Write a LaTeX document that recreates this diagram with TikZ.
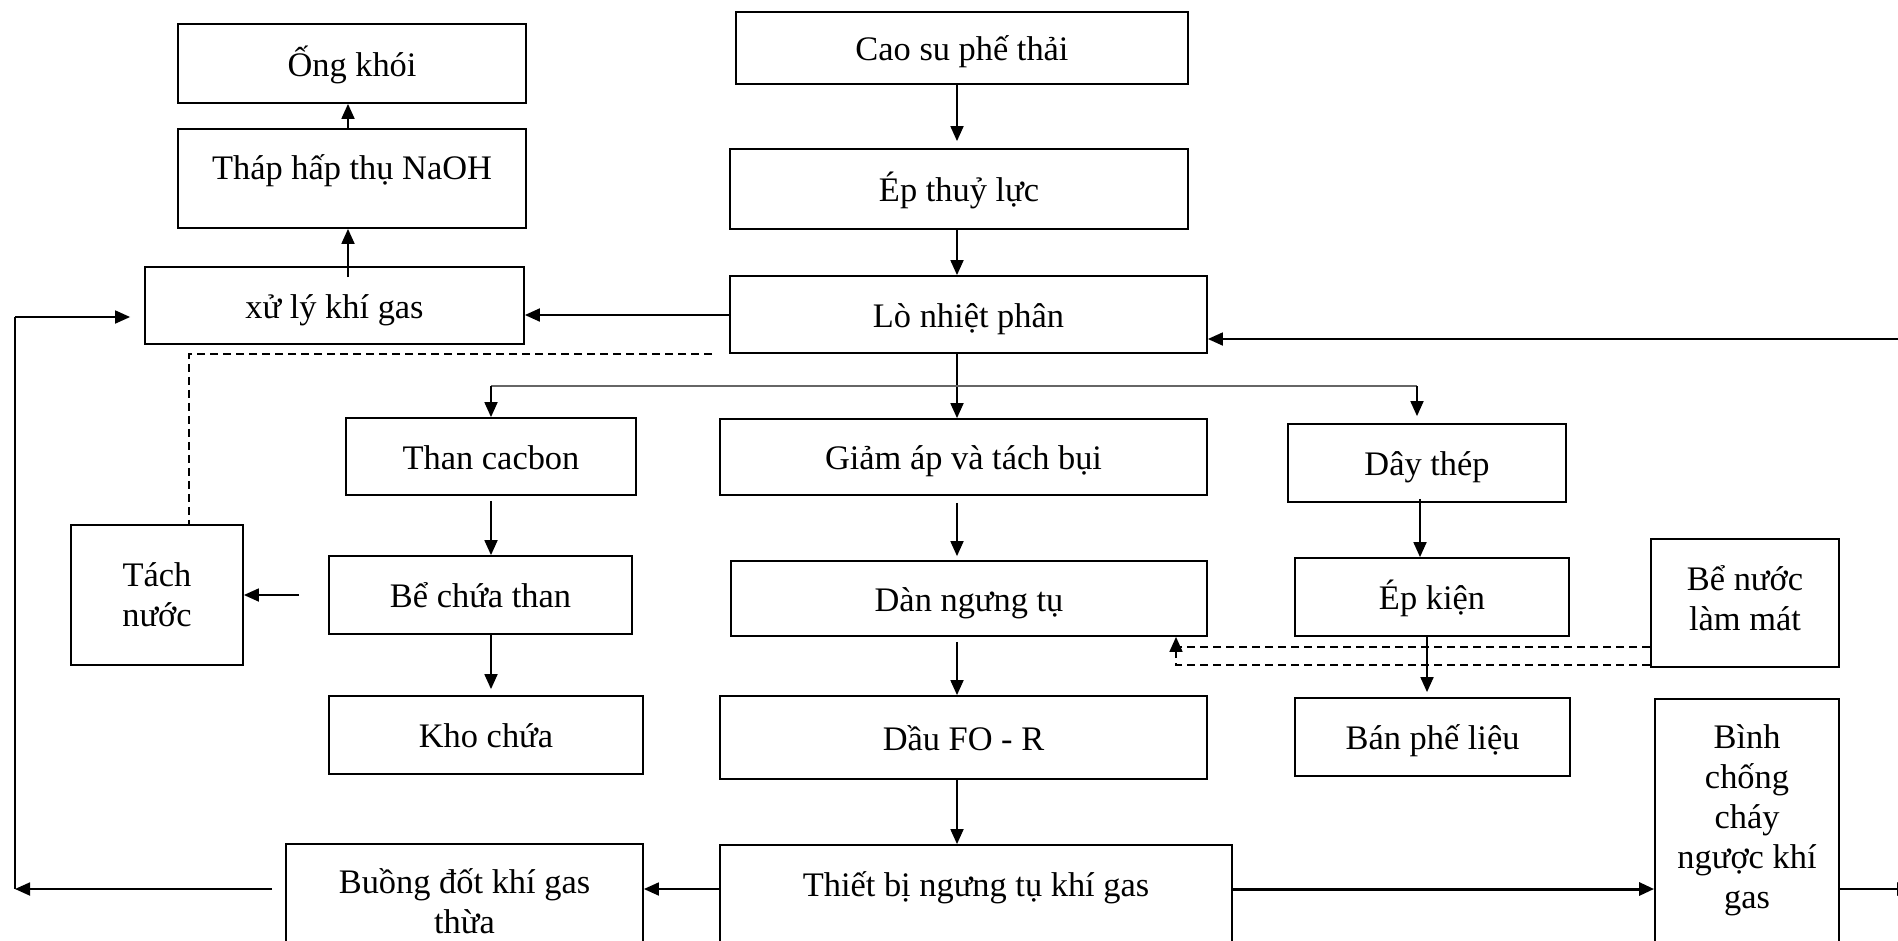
\documentclass[tikz,border=0pt]{standalone}
\usepackage{fontspec}
\setmainfont{Liberation Serif}
\usetikzlibrary{arrows.meta}
\begin{document}
\begin{tikzpicture}[x=1pt,y=-1pt,
  box/.style={draw, line width=1.8pt, inner sep=0pt, align=center,
    font=\fontsize{34.4pt}{40pt}\selectfont},
  one/.style={text height=33.8pt, text depth=8.6pt},
  txt/.style={inner sep=0pt, align=center, font=\fontsize{34.4pt}{40pt}\selectfont},
  arr/.style={line width=1.8pt, -{Triangle[length=15pt,width=13pt]}},
  ln/.style={line width=1.8pt},
  dsh/.style={line width=1.6pt, dash pattern=on 8pt off 5pt},
  split/.style={line width=1.2pt, draw=gray!80!black}]
\clip (0,0) rectangle (1898,940);
% boxes
\node[box,one,minimum width=348pt,minimum height=79pt] (ong) at (352,63.5) {Ống khói};
\node[box,minimum width=348pt,minimum height=99pt,text height=33.8pt,text depth=31.6pt] (thap) at (352,178.5) {Tháp hấp thụ NaOH};
\node[box,one,minimum width=379pt,minimum height=77pt] (xuly) at (334.5,305.5) {xử lý khí gas};
\node[box,one,minimum width=452pt,minimum height=72pt] (cao) at (962,48) {Cao su phế thải};
\node[box,one,minimum width=458pt,minimum height=80pt] (epthuy) at (959,189) {Ép thuỷ lực};
\node[box,one,minimum width=477pt,minimum height=77pt] (lo) at (968.5,314.5) {Lò nhiệt phân};
\node[box,one,minimum width=290pt,minimum height=77pt] (than) at (491,456.5) {Than cacbon};
\node[box,one,minimum width=487pt,minimum height=76pt] (giam) at (963.5,457) {Giảm áp và tách bụi};
\node[box,one,minimum width=278pt,minimum height=78pt] (day) at (1427,463) {Dây thép};
\node[box,minimum width=172pt,minimum height=140pt] (tach) at (157,595) {Tách\\nước};
\node[box,one,minimum width=303pt,minimum height=78pt] (be) at (480.5,595) {Bể chứa than};
\node[box,one,minimum width=476pt,minimum height=75pt] (dan) at (969,598.5) {Dàn ngưng tụ};
\node[box,one,minimum width=274pt,minimum height=78pt] (epkien) at (1432,597) {Ép kiện};
\node[box,minimum width=188pt,minimum height=128pt] (benuoc) at (1745,603) {};
\node[txt] (benuoct) at (1745,598) {Bể nước\\làm mát};
\node[box,one,minimum width=314pt,minimum height=78pt] (kho) at (486,735) {Kho chứa};
\node[box,one,minimum width=487pt,minimum height=83pt] (dau) at (963.5,737.5) {Dầu FO - R};
\node[box,one,minimum width=275pt,minimum height=78pt] (ban) at (1432.5,737) {Bán phế liệu};
\node[box,minimum width=184pt,minimum height=301pt] (binh) at (1747,849.5) {};
\node[txt] (binht) at (1747,820) {Bình\\chống\\cháy\\ngược khí\\gas};
\node[box,minimum width=357pt,minimum height=156pt] (buong) at (464.5,922) {};
\node[txt] (buongt) at (464.5,901) {Buồng đốt khí gas\\thừa};
\node[box,minimum width=512pt,minimum height=155pt,text height=33.8pt,text depth=85.6pt] (thiet) at (976,922.5) {Thiết bị ngưng tụ khí gas};
% helper coordinates
\coordinate (cx) at (957,0);
\coordinate (lx) at (15,0);
\coordinate (ly) at (0,315);
\coordinate (yt) at (0,317);
\coordinate (yb) at (0,889);
\coordinate (xt) at (348,0);
\coordinate (dxl) at (189,0);
\coordinate (dy) at (0,354);
\coordinate (sl) at (491,386);
\coordinate (sr) at (1417,386);
\coordinate (xd) at (1420,0);
\coordinate (xe) at (1427,0);
\coordinate (cwx) at (1176,0);
\coordinate (cwu) at (0,647);
\coordinate (cwl) at (0,665);
\coordinate (re1) at (1912,889);
\coordinate (re2) at (1898,339);
% connectors
\draw[arr,shorten >=7pt] (cao.south -| cx) -- (epthuy.north -| cx);
\draw[arr] (epthuy.south -| cx) -- (lo.north -| cx);
\draw[arr,line width=2pt] (lo.west |- ly) -- (xuly.east |- ly);
\draw[arr] ([yshift=-11pt]xuly.north -| xt) -- (thap.south -| xt);
\draw[arr] (thap.north -| xt) -- (ong.south -| xt);
\draw[arr] ([xshift=-13pt]buong.west |- yb) -- (lx |- yb);
\draw[ln] (lx |- yb) -- (lx |- yt);
\draw[arr,shorten >=14pt] (lx |- yt) -- (xuly.west |- yt);
\draw[dsh] ([xshift=-17pt]lo.west |- dy) -- (dxl |- dy) -- (tach.north -| dxl);
\draw[arr] (lo.south -| cx) -- (giam.north -| cx);
\draw[split] (sl) -- (sr);
\draw[arr] (sl) -- (than.north -| sl);
\draw[arr,shorten >=7pt] (sr) -- (day.north -| sr);
\draw[arr,shorten <=5pt] (than.south) -- (than.south |- be.north);
\draw[arr] ([xshift=-29pt]be.west) -- (be.west -| tach.east);
\draw[arr,shorten >=6pt] (be.south -| than.south) -- (kho.north -| than.south);
\draw[arr,shorten <=7pt,shorten >=4pt] (giam.south -| cx) -- (dan.north -| cx);
\draw[arr,shorten <=5pt] (dan.south -| cx) -- (dau.north -| cx);
\draw[arr] (dau.south -| cx) -- (thiet.north -| cx);
\draw[arr] ([yshift=4pt]day.south -| xd) -- (epkien.north -| xd);
\draw[arr,shorten >=5pt] (epkien.south -| xe) -- (ban.north -| xe);
\draw[dsh] (benuoc.west |- cwu) -- (cwx |- cwu);
\draw[dsh,-{Triangle[length=15pt,width=13pt]}] (benuoc.west |- cwl) -- (cwx |- cwl) -- (dan.south -| cwx);
\draw[arr,line width=3pt] (thiet.east |- yb) -- (binh.west |- yb);
\draw[arr] (thiet.west |- yb) -- (buong.east |- yb);
\draw[arr,line width=2.5pt] (binh.east |- yb) -- (re1);
\draw[arr] (re2) -- (re2 -| lo.east);
\end{tikzpicture}
\end{document}
